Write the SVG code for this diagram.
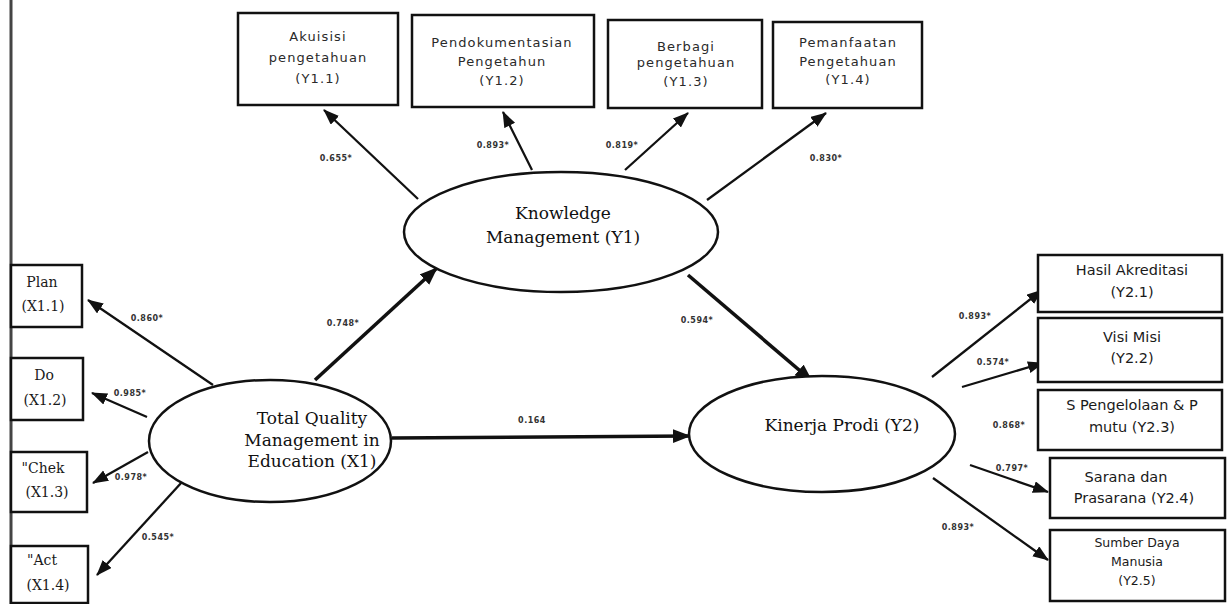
<svg xmlns="http://www.w3.org/2000/svg" width="1229" height="604" viewBox="0 0 1229 604">
<defs>
<marker id="arr" markerUnits="userSpaceOnUse" markerWidth="18" markerHeight="14" refX="15" refY="6" orient="auto"><path d="M0,0 L16,6 L0,12 Z" fill="#111"/></marker>
<marker id="arrB" markerUnits="userSpaceOnUse" markerWidth="20" markerHeight="16" refX="17" refY="7" orient="auto"><path d="M0,0 L18,7 L0,14 Z" fill="#111"/></marker>
</defs>
<style>
.box{fill:#fff;stroke:#111;stroke-width:2.5}
.ell{fill:#fff;stroke:#111;stroke-width:2.5}
.ts{font-family:"DejaVu Sans","Liberation Sans",sans-serif;font-size:13px;fill:#2a2a2a;text-anchor:middle;letter-spacing:1.1px}
.tr{font-family:"DejaVu Sans","Liberation Sans",sans-serif;font-size:14.5px;fill:#1a1a1a;text-anchor:middle}
.tl{font-family:"DejaVu Serif","Liberation Serif",serif;font-size:14px;fill:#1a1a1a;text-anchor:middle}
.te{font-family:"DejaVu Serif","Liberation Serif",serif;font-size:17px;fill:#111;text-anchor:middle}
.lab{font-family:"DejaVu Sans","Liberation Sans",sans-serif;font-size:8px;font-weight:bold;fill:#333;text-anchor:middle;letter-spacing:0.5px}
.c{stroke:#111;stroke-width:2.3;fill:none;marker-end:url(#arr)}
.cb{stroke:#111;stroke-width:3.6;fill:none;marker-end:url(#arrB)}
</style>
<rect width="1229" height="604" fill="#fff"/>
<line x1="11" y1="0" x2="11" y2="604" stroke="#444" stroke-width="3"/>

<g id="connectors">
<line class="c" x1="418" y1="199" x2="324" y2="110"/>
<line class="c" x1="532" y1="170" x2="503" y2="112"/>
<line class="c" x1="625" y1="170" x2="688" y2="113"/>
<line class="c" x1="707" y1="200" x2="826" y2="113"/>
<line class="c" x1="213" y1="385" x2="88" y2="300"/>
<line class="c" x1="147" y1="417" x2="92" y2="393"/>
<line class="c" x1="148" y1="452" x2="93" y2="483"/>
<line class="c" x1="182" y1="482" x2="97" y2="575"/>
<line class="cb" x1="315" y1="380" x2="437" y2="268"/>
<line class="cb" x1="688" y1="275" x2="812" y2="381"/>
<line class="cb" x1="392" y1="438" x2="690" y2="436"/>
<line class="c" x1="932" y1="377" x2="1042" y2="290"/>
<line class="c" x1="962" y1="387" x2="1043" y2="363"/>
<line class="c" x1="970" y1="465" x2="1048" y2="492"/>
<line class="c" x1="933" y1="478" x2="1048" y2="560"/>
<text class="lab" x="336" y="161">0.655*</text>
<text class="lab" x="493" y="148">0.893*</text>
<text class="lab" x="622" y="148">0.819*</text>
<text class="lab" x="826" y="161">0.830*</text>
<text class="lab" x="147" y="321">0.860*</text>
<text class="lab" x="130" y="396">0.985*</text>
<text class="lab" x="131" y="480">0.978*</text>
<text class="lab" x="158" y="540">0.545*</text>
<text class="lab" x="343" y="326">0.748*</text>
<text class="lab" x="697" y="323">0.594*</text>
<text class="lab" x="532" y="423">0.164</text>
<text class="lab" x="975" y="319">0.893*</text>
<text class="lab" x="993" y="365">0.574*</text>
<text class="lab" x="1009" y="428">0.868*</text>
<text class="lab" x="1012" y="471">0.797*</text>
<text class="lab" x="958" y="530">0.893*</text>
</g>

<g id="Y1_1"><rect class="box" x="238" y="13" width="160" height="92"/>
<text class="ts" x="318" y="41">Akuisisi</text><text class="ts" x="318" y="62">pengetahuan</text><text class="ts" x="318" y="83">(Y1.1)</text></g>
<g id="Y1_2"><rect class="box" x="412" y="15" width="182" height="92"/>
<text class="ts" x="502" y="47">Pendokumentasian</text><text class="ts" x="502" y="66">Pengetahun</text><text class="ts" x="502" y="85">(Y1.2)</text></g>
<g id="Y1_3"><rect class="box" x="608" y="20" width="154" height="88"/>
<text class="ts" x="686" y="51">Berbagi</text><text class="ts" x="686" y="67">pengetahuan</text><text class="ts" x="686" y="86">(Y1.3)</text></g>
<g id="Y1_4"><rect class="box" x="773" y="22" width="149" height="86"/>
<text class="ts" x="848" y="47">Pemanfaatan</text><text class="ts" x="848" y="66">Pengetahuan</text><text class="ts" x="848" y="84">(Y1.4)</text></g>

<g id="X1_1"><rect class="box" x="11" y="265" width="71" height="62"/>
<text class="tl" x="42" y="287">Plan</text><text class="tl" x="43" y="311">(X1.1)</text></g>
<g id="X1_2"><rect class="box" x="11" y="358" width="72" height="62"/>
<text class="tl" x="44" y="380">Do</text><text class="tl" x="45" y="405">(X1.2)</text></g>
<g id="X1_3"><rect class="box" x="11" y="452" width="76" height="60"/>
<text class="tl" x="43" y="473">"Chek</text><text class="tl" x="47" y="497">(X1.3)</text></g>
<g id="X1_4"><rect class="box" x="11" y="546" width="77" height="57"/>
<text class="tl" x="42" y="565">"Act</text><text class="tl" x="48" y="590">(X1.4)</text></g>

<g id="X1"><ellipse class="ell" cx="270" cy="441" rx="121" ry="61"/>
<text class="te" x="312" y="424">Total Quality</text><text class="te" x="312" y="446">Management in</text><text class="te" x="312" y="467">Education (X1)</text></g>
<g id="Y1"><ellipse class="ell" cx="561" cy="232" rx="157" ry="60"/>
<text class="te" x="563" y="219">Knowledge</text><text class="te" x="563" y="243">Management (Y1)</text></g>
<g id="Y2"><ellipse class="ell" cx="822" cy="434" rx="133" ry="58"/>
<text class="te" x="842" y="431">Kinerja Prodi (Y2)</text></g>

<g id="Y2_1"><rect class="box" x="1038" y="255" width="184" height="57"/>
<text class="tr" x="1132" y="275">Hasil Akreditasi</text><text class="tr" x="1132" y="297">(Y2.1)</text></g>
<g id="Y2_2"><rect class="box" x="1038" y="318" width="184" height="64"/>
<text class="tr" x="1132" y="342">Visi Misi</text><text class="tr" x="1132" y="363">(Y2.2)</text></g>
<g id="Y2_3"><rect class="box" x="1038" y="390" width="184" height="60"/>
<text class="tr" x="1132" y="410">S Pengelolaan &amp; P</text><text class="tr" x="1132" y="432">mutu (Y2.3)</text></g>
<g id="Y2_4"><rect class="box" x="1050" y="458" width="175" height="60"/>
<text class="tr" x="1126" y="482">Sarana dan</text><text class="tr" x="1134" y="503">Prasarana  (Y2.4)</text></g>
<g id="Y2_5"><rect class="box" x="1050" y="530" width="175" height="71"/>
<text class="tr" x="1137" y="547" style="font-size:12.5px">Sumber Daya</text><text class="tr" x="1137" y="566" style="font-size:12.5px">Manusia</text><text class="tr" x="1137" y="585" style="font-size:12.5px">(Y2.5)</text></g>
</svg>
